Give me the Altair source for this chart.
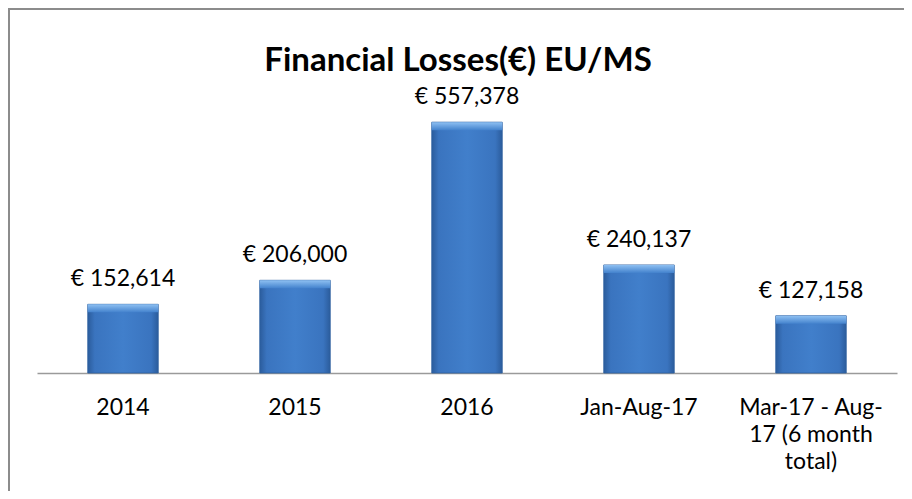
import altair as alt
import pandas as pd

categories = ["2014", "2015", "2016", "Jan-Aug-17", "Mar-17 - Aug-17 (6 month total)"]
values = [152614, 206000, 557378, 240137, 127158]
wrapped = {"Mar-17 - Aug-17 (6 month total)": ["Mar-17 - Aug-", "17 (6 month", "total)"]}
title_text = "Financial Losses(€) EU/MS"

df = pd.DataFrame({"cat": categories, "val": values})

FONT = "Lato"

label_expr = "datum.label"
for k, lines in wrapped.items():
    arr = "[" + ", ".join("'" + l + "'" for l in lines) + "]"
    label_expr = f"datum.label == '{k}' ? {arr} : " + label_expr

x = alt.X("cat:N", sort=categories, title=None,
          scale=alt.Scale(paddingInner=0.59, paddingOuter=0.295),
          axis=alt.Axis(labelAngle=0, ticks=False, labelFont=FONT, labelFontSize=23,
                        labelColor="#000000", labelPadding=23, labelLineHeight=27,
                        domainColor="#9a9a9a", domainWidth=1.5, labelExpr=label_expr,
                        labelLimit=300))
y = alt.Y("val:Q", title=None, axis=None, scale=alt.Scale(domain=[0, 600000]))

base = alt.Chart(df).encode(x=x)

bars = base.mark_bar(
    color=alt.Gradient(
        gradient="linear", x1=0, x2=1, y1=0, y2=0,
        stops=[alt.GradientStop(offset=0, color="#2b5c9c"),
               alt.GradientStop(offset=0.1, color="#3a74bf"),
               alt.GradientStop(offset=0.5, color="#417fcb"),
               alt.GradientStop(offset=0.9, color="#3a74bf"),
               alt.GradientStop(offset=1, color="#2b5c9c")]),
    stroke="#2d5f9f", strokeWidth=0.8,
).encode(y=y)

bevel = base.mark_bar(
    y2Offset=8,
    color=alt.Gradient(
        gradient="linear", x1=0, x2=0, y1=0, y2=1,
        stops=[alt.GradientStop(offset=0, color="#8ec0f2"),
               alt.GradientStop(offset=1, color="#4382cd")]),
).encode(y=y, y2=alt.Y2("val:Q"))

labels = base.transform_calculate(
    lab="'€ ' + format(datum.val, ',')"
).mark_text(font=FONT, fontSize=23, color="#000000", baseline="alphabetic", dy=-18).encode(
    y=y, text="lab:N")

one = alt.Data(values=[{}])
top_line = alt.Chart(one).mark_rule(color="#8c8c8c", strokeWidth=2).encode(
    x=alt.value(-29), x2=alt.value(870), y=alt.value(-94))
left_line = alt.Chart(one).mark_rule(color="#8c8c8c", strokeWidth=2).encode(
    x=alt.value(-28), y=alt.value(-95), y2=alt.value(390))
title = alt.Chart(one).mark_text(
    text=title_text, font=FONT, fontSize=33, fontWeight="bold", color="#000000",
    baseline="alphabetic", align="center",
).encode(x=alt.value(421), y=alt.value(-32))

chart = alt.layer(top_line, left_line, title, bars, bevel, labels).properties(
    width=860, height=270,
    autosize=alt.AutoSizeParams(type="none"),
    padding={"left": 29, "top": 95, "right": 7, "bottom": 118},
    view=alt.ViewBackground(stroke="transparent", strokeWidth=0),
).configure_view(stroke="transparent", strokeWidth=0).configure(background="white")

chart.save("out.html", embed_options={"renderer": "svg", "actions": False})
